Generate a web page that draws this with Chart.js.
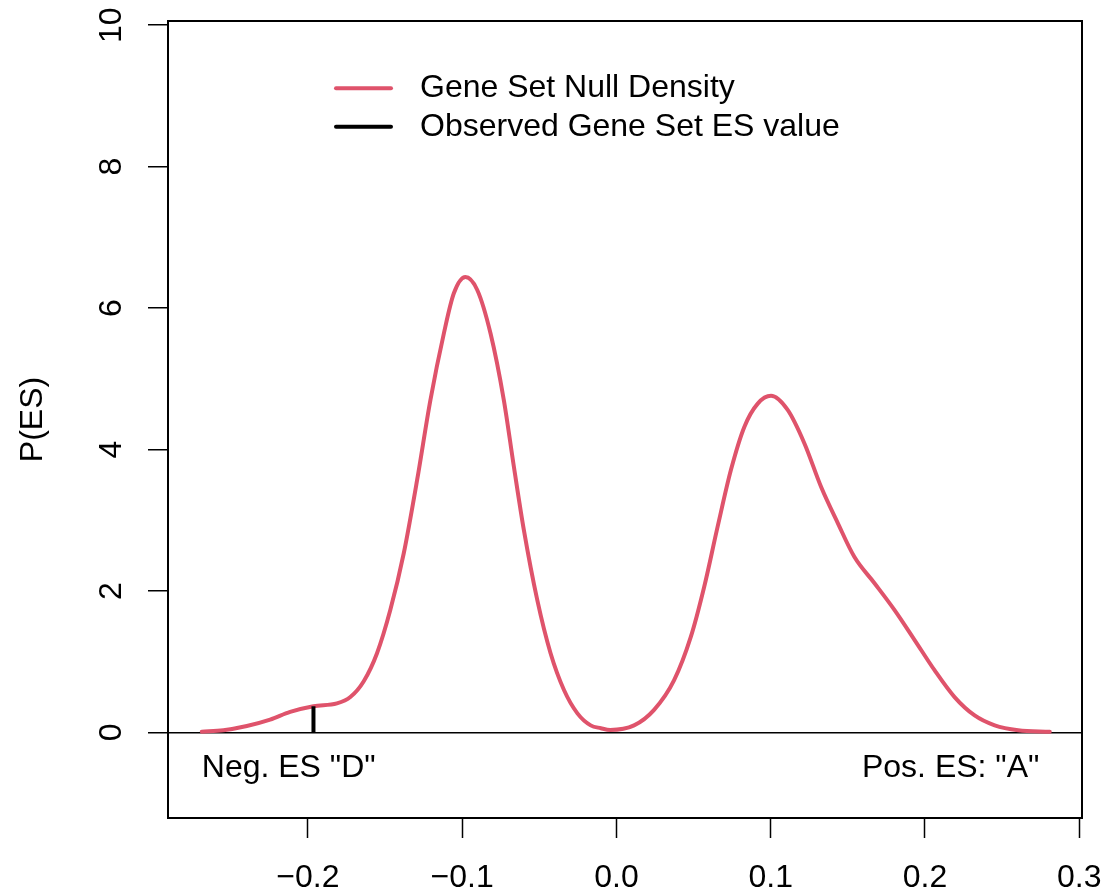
<!DOCTYPE html>
<html lang="en">
<head>
<meta charset="UTF-8">
<title>Gene Set Null Density</title>
<script src="https://cdn.jsdelivr.net/npm/chart.js"></script>
<style>
  html, body { margin: 0; padding: 0; background: #fff; }
  canvas { display: block; }
</style>
</head>
<body>
<canvas id="esChart" width="1105" height="894"></canvas>
<script>
  // ES values and the null density
  const esValues = [
    -0.2688, -0.2548, -0.2396, -0.2245, -0.2115, -0.1964, -0.1812, -0.1725,
    -0.1639, -0.1552, -0.1466, -0.1379, -0.1292, -0.1206, -0.1119, -0.1054,
    -0.0979, -0.0903, -0.0816, -0.0730, -0.0665, -0.0600, -0.0513, -0.0427,
    -0.0340, -0.0253, -0.0167, -0.0101, -0.0040, 0.0114, 0.0244, 0.0374,
    0.0482, 0.0569, 0.0656, 0.0742, 0.0829, 0.0916, 0.1002, 0.1110,
    0.1218, 0.1327, 0.1435, 0.1543, 0.1673, 0.1803, 0.1932, 0.2062,
    0.2192, 0.2322, 0.2452, 0.2604, 0.2809
  ];
  const nullDensity = [
    0.01, 0.03, 0.09, 0.18, 0.29, 0.37, 0.41, 0.50,
    0.72, 1.12, 1.73, 2.53, 3.57, 4.70, 5.64, 6.21,
    6.44, 6.26, 5.64, 4.70, 3.76, 2.86, 1.87, 1.12,
    0.60, 0.27, 0.10, 0.06, 0.035, 0.10, 0.32, 0.74,
    1.35, 2.06, 2.91, 3.71, 4.32, 4.65, 4.76, 4.56,
    4.09, 3.47, 2.96, 2.48, 2.11, 1.73, 1.31, 0.88,
    0.50, 0.24, 0.10, 0.03, 0.01
  ];
  const observedES = -0.1964;
  const observedDensity = 0.37;

  const xTicks = [-0.2, -0.1, 0, 0.1, 0.2, 0.3];
  const xTickLabels = ['\u22120.2', '\u22120.1', '0.0', '0.1', '0.2', '0.3'];
  const yTicks = [0, 2, 4, 6, 8, 10];
  const yTickLabels = ['0', '2', '4', '6', '8', '10'];
  const xRange = [-0.2907, 0.3018];
  const yRange = [-1.21, 10.06];

  const legendLabels = ['Gene Set Null Density', 'Observed Gene Set ES value'];
  const sideLabels = ['Neg. ES "D"', 'Pos. ES: "A"'];
  const sideLabelX = [-0.2688, 0.2742];
  const sideLabelY = -0.5;

  const RED = '#DF536B';
  const FAMILY = '"Liberation Sans", Arial, Helvetica, sans-serif';
  const FONT_SIZE = 32;
  const FONT = FONT_SIZE + 'px ' + FAMILY;

  Chart.defaults.color = '#000';
  Chart.defaults.font.family = FAMILY;
  Chart.defaults.font.size = FONT_SIZE;

  // box, legend and the two side texts, the way base R draws them
  const rPlotExtras = {
    id: 'rPlotExtras',
    afterDraw(chart) {
      const { ctx, chartArea: a, scales: { x, y } } = chart;
      ctx.save();
      ctx.strokeStyle = '#000';
      ctx.lineWidth = 2;
      ctx.strokeRect(a.left, a.top, a.right - a.left, a.bottom - a.top);

      ctx.font = FONT;
      ctx.fillStyle = '#000';
      ctx.textBaseline = 'middle';
      ctx.textAlign = 'left';
      ctx.fillText(sideLabels[0], x.getPixelForValue(sideLabelX[0]), y.getPixelForValue(sideLabelY));
      ctx.textAlign = 'right';
      ctx.fillText(sideLabels[1], x.getPixelForValue(sideLabelX[1]), y.getPixelForValue(sideLabelY));

      const colors = [RED, '#000'];
      ctx.lineCap = 'round';
      ctx.textAlign = 'left';
      legendLabels.forEach((label, i) => {
        const ly = a.top + 67.3 + i * 38.4;
        ctx.strokeStyle = colors[i];
        ctx.lineWidth = 4;
        ctx.beginPath();
        ctx.moveTo(a.left + 168, ly);
        ctx.lineTo(a.left + 223, ly);
        ctx.stroke();
        ctx.fillText(label, a.left + 252, ly);
      });
      ctx.restore();
    }
  };

  new Chart(document.getElementById('esChart'), {
    type: 'scatter',
    data: {
      datasets: [
        {
          label: 'Observed Gene Set ES value',
          data: [{ x: observedES, y: 0 }, { x: observedES, y: observedDensity }],
          showLine: true,
          borderColor: '#000',
          borderWidth: 4,
          pointRadius: 0
        },
        {
          label: 'Gene Set Null Density',
          data: esValues.map((v, i) => ({ x: v, y: nullDensity[i] })),
          showLine: true,
          borderColor: RED,
          borderWidth: 4,
          borderCapStyle: 'round',
          borderJoinStyle: 'round',
          cubicInterpolationMode: 'monotone',
          pointRadius: 0
        }
      ]
    },
    options: {
      responsive: false,
      animation: false,
      devicePixelRatio: 1,
      layout: { padding: { top: 21, right: 23, left: 0, bottom: 0 } },
      plugins: {
        legend: { display: false },
        tooltip: { enabled: false }
      },
      scales: {
        x: {
          type: 'linear',
          position: 'bottom',
          min: xRange[0],
          max: xRange[1],
          border: { display: false },
          grid: {
            drawOnChartArea: false,
            drawTicks: true,
            tickLength: 20,
            tickColor: '#000',
            tickWidth: 1.5
          },
          ticks: {
            autoSkip: false,
            maxRotation: 0,
            padding: 21,
            font: { size: FONT_SIZE },
            callback: (v, i) => xTickLabels[i]
          },
          afterBuildTicks: axis => { axis.ticks = xTicks.map(v => ({ value: v })); },
          afterFit: axis => {
            axis.height = 76;
            axis.paddingLeft = 0;
            axis.paddingRight = 0;
          }
        },
        y: {
          type: 'linear',
          position: 'left',
          min: yRange[0],
          max: yRange[1],
          border: { display: false },
          grid: {
            drawOnChartArea: true,
            color: c => (c.tick && c.tick.value === 0 ? '#000' : 'rgba(0,0,0,0)'),
            lineWidth: 1.5,
            drawTicks: true,
            tickLength: 20,
            tickColor: '#000',
            tickWidth: 1.5
          },
          ticks: {
            autoSkip: false,
            minRotation: 90,
            maxRotation: 90,
            crossAlign: 'center',
            padding: 18,
            font: { size: FONT_SIZE },
            callback: (v, i) => yTickLabels[i]
          },
          title: {
            display: true,
            text: 'P(ES)',
            color: '#000',
            font: { size: FONT_SIZE },
            padding: { top: 14, bottom: 0 }
          },
          afterBuildTicks: axis => { axis.ticks = yTicks.map(v => ({ value: v })); },
          afterFit: axis => {
            axis.width = 168;
            axis.paddingTop = 0;
            axis.paddingBottom = 0;
          }
        }
      }
    },
    plugins: [rPlotExtras]
  });
</script>
</body>
</html>
